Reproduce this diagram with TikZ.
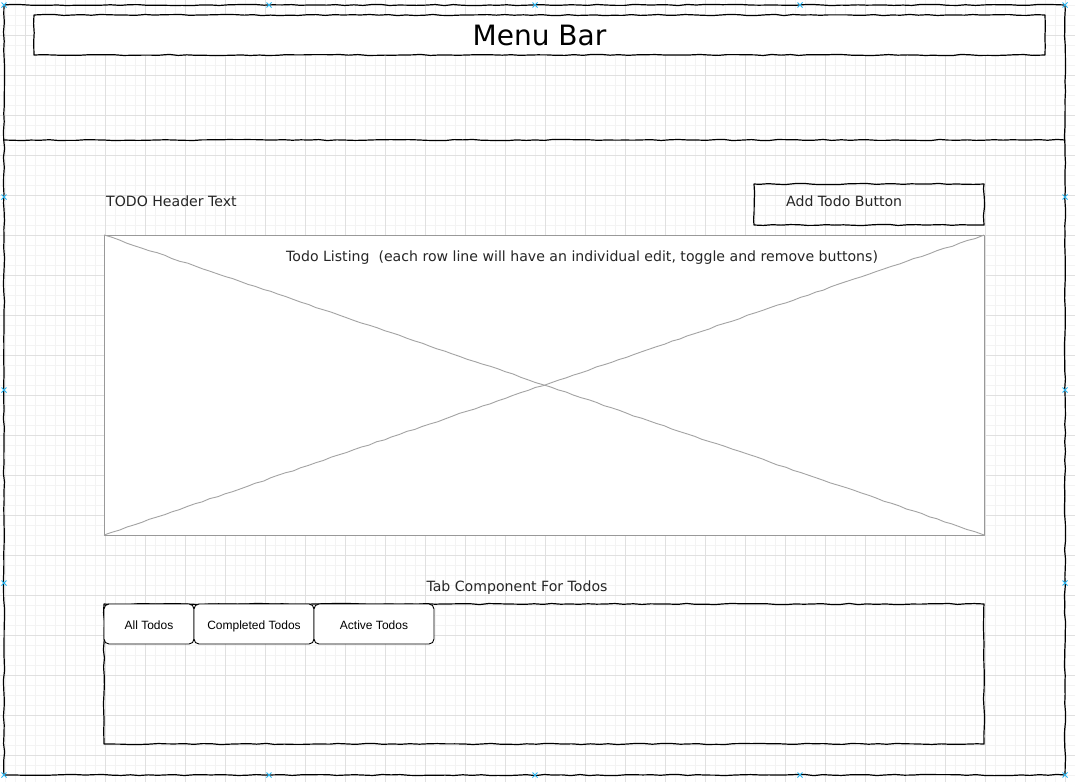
\documentclass[tikz,border=0pt]{standalone}
\usepackage{fontspec}
\setmainfont{DejaVu Sans}
\newfontfamily\tabfont{Liberation Sans}
\usetikzlibrary{positioning,decorations.pathmorphing}
\definecolor{gridminor}{HTML}{F3F3F3}
\definecolor{gridmajor}{HTML}{E0E0E0}
\definecolor{handle}{HTML}{29B6F2}
\definecolor{listgray}{HTML}{999999}

\begin{document}
\begin{tikzpicture}[x=1pt,y=-1pt,line join=round]
    % styles
    \tikzset{
        sketch/.style={draw,line width=1.2pt,decorate,
            decoration={random steps,segment length=9pt,amplitude=0.6pt}},
        box/.style={sketch,minimum width=#1,inner sep=0pt,outer sep=0pt},
        uitext/.style={inner sep=0pt,text=black!85,font=\fontsize{14.1}{16}\selectfont},
        tabbtn/.style={draw,line width=0.9pt,fill=white,rounded corners=5pt,
            minimum height=40pt,inner sep=0pt,outer sep=0pt,
            text height=12.6pt,text depth=2pt,
            font=\tabfont\fontsize{12}{14}\selectfont},
        crossline/.style={draw=listgray!90,line width=0.9pt,decorate,
            decoration={random steps,segment length=8pt,amplitude=0.5pt}},
        handlemark/.style={draw=handle,line width=1pt}
    }
    \pgfmathsetseed{11}
    \useasboundingbox (0,0) rectangle (1075,782);
    \fill[white] (0,0) rectangle (1075,782);

    % grid
    \foreach \gx in {5,15,...,1075} \draw[gridminor,line width=1pt] (\gx,0) -- (\gx,782);
    \foreach \gy in {5,15,...,782} \draw[gridminor,line width=1pt] (0,\gy) -- (1075,\gy);
    \foreach \gx in {25,65,...,1065} \draw[gridmajor,line width=1pt] (\gx,0) -- (\gx,782);
    \foreach \gy in {35,75,...,775} \draw[gridmajor,line width=1pt] (0,\gy) -- (1075,\gy);

    % page frame and menu bar
    \node[box=1061pt,minimum height=770pt] (frame) at (534.5,390) {};
    \coordinate (sepy) at (0,140);
    \draw[sketch] (frame.west |- sepy) -- (frame.east |- sepy);
    \node[box=1011pt,minimum height=40pt,fill=white,
        font=\fontsize{28}{30}\selectfont] (menubar) at (539.5,35) {Menu Bar};

    % header row
    \node[uitext,anchor=base west] (header) at (106,206) {TODO Header Text};
    \node[box=230pt,minimum height=41pt] (addbtn) at (869,204.5) {};
    \node[uitext,anchor=base west] (addlabel) at (786,206) {Add Todo Button};

    % todo listing placeholder
    \node[draw=listgray,line width=0.9pt,fill=white,minimum width=880pt,
        minimum height=300pt,inner sep=0pt,outer sep=0pt] (listing) at (544,385) {};
    \draw[crossline] (listing.north west) -- (listing.south east);
    \draw[crossline] (listing.south west) -- (listing.north east);
    \node[uitext,anchor=base west] (listlabel) at (286,261)
        {Todo Listing\ \ (each row line will have an individual edit, toggle and remove buttons)};

    % tab component
    \node[uitext,anchor=base] (tabtitle) at (517,591) {Tab Component For Todos};
    \node[box=880pt,minimum height=140pt] (tabs) at (544,674) {};
    \node[tabbtn,minimum width=90pt,anchor=north west] (alltodos) at (tabs.north west) {All Todos};
    \node[tabbtn,minimum width=120pt,right=0pt of alltodos] (donetodos) {Completed Todos};
    \node[tabbtn,minimum width=120pt,right=0pt of donetodos] (activetodos) {Active Todos};

    % selection handles
    \foreach \hx/\hy in {4/5,269/5,535/5,800/5,1065/5,4/197,1065/197,4/390,1065/390,
        4/583,1065/583,4/775,269/775,535/775,800/775,1065/775}
        \draw[handlemark] (\hx,\hy) +(-2.5,-2.5) -- +(2.5,2.5) +(-2.5,2.5) -- +(2.5,-2.5);
\end{tikzpicture}
\end{document}
